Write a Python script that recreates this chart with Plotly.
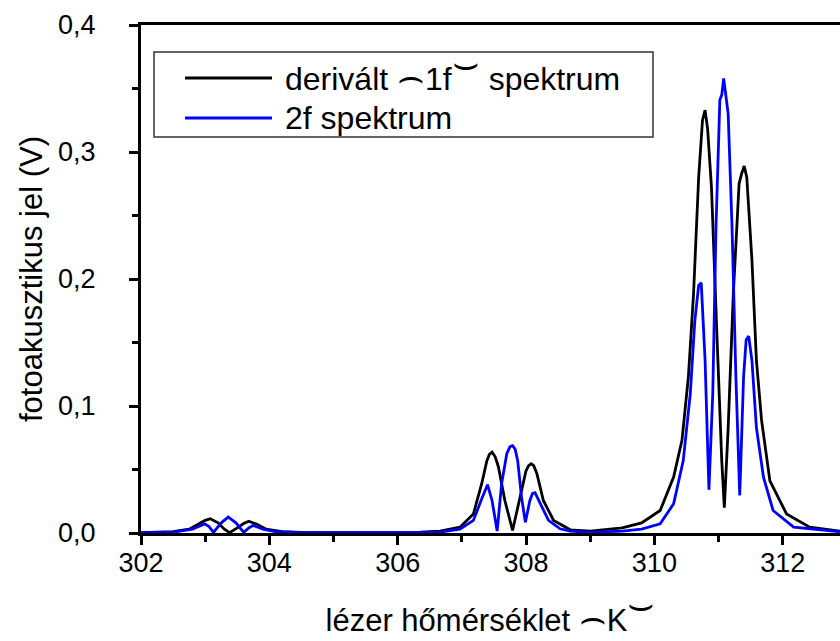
import plotly.graph_objects as go

# ---- data ----
black_x = [302.0, 302.5, 302.75, 302.9, 303.0, 303.08, 303.2, 303.3, 303.38, 303.5, 303.6, 303.68,
           303.8, 303.95, 304.2, 304.6, 305.5, 306.0, 306.35, 306.66, 306.97, 307.18, 307.31, 307.39,
           307.43, 307.47, 307.52, 307.57, 307.67, 307.79, 307.91, 308.0, 308.04, 308.08, 308.12, 308.17,
           308.27, 308.43, 308.69, 309.0, 309.5, 309.8, 310.09, 310.3, 310.43, 310.53, 310.61, 310.69,
           310.75, 310.79, 310.83, 310.89, 310.97, 311.05, 311.09, 311.15, 311.23, 311.32, 311.36, 311.40,
           311.44, 311.52, 311.59, 311.67, 311.8, 312.06, 312.42, 312.89]
black_y = [0.0003, 0.001, 0.003, 0.007, 0.0100, 0.0112, 0.008, 0.003, 0.0003, 0.004, 0.0075, 0.0093,
           0.007, 0.003, 0.001, 0.0003, 0.0003, 0.0005, 0.0007, 0.0015, 0.0046, 0.015, 0.039, 0.057,
           0.062, 0.0637, 0.060, 0.052, 0.0256, 0.002, 0.028, 0.049, 0.053, 0.0545, 0.053, 0.0466,
           0.0256, 0.0099, 0.0025, 0.0015, 0.004, 0.008, 0.0177, 0.044, 0.073, 0.123, 0.188, 0.280,
           0.325, 0.333, 0.318, 0.272, 0.162, 0.057, 0.020, 0.083, 0.188, 0.275, 0.283, 0.289,
           0.280, 0.215, 0.136, 0.089, 0.041, 0.015, 0.0046, 0.0014]

blue_x = [302.0, 302.5, 302.8, 302.92, 302.99, 303.06, 303.13, 303.25, 303.36, 303.48, 303.6, 303.68,
          303.75, 303.9, 304.1, 304.5, 306.0, 306.35, 306.66, 306.97, 307.18, 307.31, 307.40, 307.47,
          307.55, 307.62, 307.70, 307.75, 307.79, 307.83, 307.87, 307.93, 307.99, 308.06, 308.10, 308.14,
          308.22, 308.35, 308.53, 308.69, 309.0, 309.5, 309.8, 310.09, 310.3, 310.45, 310.56, 310.63,
          310.69, 310.73, 310.79, 310.85, 310.91, 310.96, 311.02, 311.05, 311.08, 311.12, 311.15, 311.21,
          311.27, 311.33, 311.39, 311.43, 311.47, 311.52, 311.59, 311.7, 311.85, 312.17, 312.89]
blue_y = [0.0002, 0.0007, 0.003, 0.0055, 0.0072, 0.005, 0.0005, 0.008, 0.0125, 0.008, 0.0005, 0.004,
          0.006, 0.003, 0.001, 0.0002, 0.0003, 0.0002, 0.0007, 0.003, 0.0099, 0.027, 0.038, 0.0256,
          0.0015, 0.039, 0.0624, 0.068, 0.0687, 0.066, 0.057, 0.028, 0.0085, 0.0256, 0.031, 0.0317,
          0.023, 0.0099, 0.0033, 0.0014, 0.0005, 0.0015, 0.003, 0.0072, 0.023, 0.057, 0.110, 0.167,
          0.195, 0.197, 0.136, 0.034, 0.110, 0.241, 0.341, 0.345, 0.358, 0.343, 0.330, 0.241,
          0.123, 0.0296, 0.123, 0.152, 0.155, 0.136, 0.083, 0.044, 0.0177, 0.0046, 0.001]

OPEN = '<span style="font-family:DejaVu Sans;font-size:42px">⌢</span>'
CLOSE = '<sup><span style="font-family:DejaVu Sans;font-size:42px">⌣</span></sup>'
series_names = ["derivált " + OPEN + "1f" + CLOSE + " spektrum", "2f spektrum"]
series_colors = ["#000000", "#0000ff"]
x_title = "lézer hőmérséklet " + OPEN + "K" + CLOSE
y_title = "fotoakusztikus jel (V)"

FONT = "Liberation Sans, Arial, DejaVu Sans, sans-serif"
LW = 2.8

fig = go.Figure()
fig.add_trace(go.Scatter(x=black_x, y=black_y, mode="lines", name="derivált (1f) spektrum",
                         line=dict(color=series_colors[0], width=LW), showlegend=False))
fig.add_trace(go.Scatter(x=blue_x, y=blue_y, mode="lines", name="2f spektrum",
                         line=dict(color=series_colors[1], width=LW), showlegend=False))

W, H = 840, 641
L, R, T, B = 141, 0, 25, 108
pw, ph = W - L - R, H - T - B

def px(x):
    return (x - L) / pw

def py(y):
    return (H - B - y) / ph

# legend drawn as box + sample lines + text
shapes = [dict(type="rect", xref="paper", yref="paper", x0=px(154), x1=px(653), y0=py(137), y1=py(52),
               line=dict(color="#333333", width=1.5), fillcolor="rgba(0,0,0,0)")]
annotations = []
rows = [78, 118]
shifts = [9, 0]
for name, col, ry, sh in zip(series_names, series_colors, rows, shifts):
    shapes.append(dict(type="line", xref="paper", yref="paper", x0=px(185), x1=px(272), y0=py(ry), y1=py(ry),
                       line=dict(color=col, width=LW)))
    annotations.append(dict(text=name, xref="paper", yref="paper", x=px(283), y=py(ry), yshift=sh,
                            xanchor="left", yanchor="middle", showarrow=False,
                            font=dict(family=FONT, size=32, color="#000")))

fig.update_layout(
    width=W, height=H,
    margin=dict(l=L, r=R, t=T, b=B, pad=0),
    paper_bgcolor="white", plot_bgcolor="white",
    separators=",.",
    font=dict(family=FONT, size=27, color="#000"),
    shapes=shapes, annotations=annotations,
    showlegend=False,
)
fig.update_xaxes(
    range=[302, 302 + (W - 140.7 - R) / 64.2], tickmode="linear", tick0=302, dtick=2,
    ticks="outside", ticklen=9, tickwidth=2.5, tickcolor="#000",
    minor=dict(ticks="outside", ticklen=6, tickwidth=2.5, tickcolor="#000", dtick=1, tick0=302, showgrid=False),
    showline=True, linewidth=3, linecolor="#000", mirror=True,
    showgrid=False, zeroline=False,
    tickfont=dict(size=27), ticklabelstandoff=-5,
    title=dict(text=x_title, font=dict(size=31), standoff=34),
)
fig.update_yaxes(
    range=[0, 0.4], tickmode="linear", tick0=0, dtick=0.1, tickformat=".1f",
    ticks="outside", ticklen=9, tickwidth=2.5, tickcolor="#000",
    minor=dict(ticks="outside", ticklen=6, tickwidth=2.5, tickcolor="#000", dtick=0.05, showgrid=False),
    showline=True, linewidth=3, linecolor="#000",
    showgrid=False, zeroline=False,
    tickfont=dict(size=27), ticklabelstandoff=28,
    title=dict(text=y_title, font=dict(size=31), standoff=7),
)

fig.write_html("out.html")
